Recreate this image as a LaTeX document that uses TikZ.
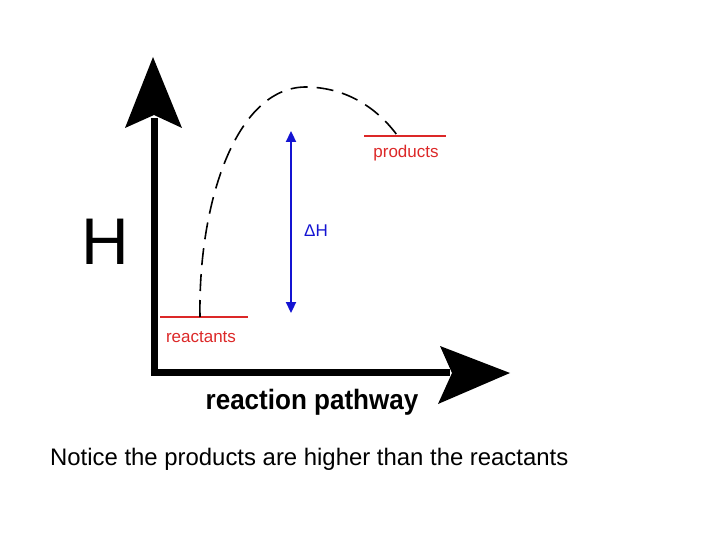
\documentclass[tikz,border=0pt]{standalone}
\usepackage{fontspec}
\setmainfont{Liberation Sans}
\usetikzlibrary{arrows.meta}
\definecolor{rlred}{RGB}{220,40,40}
\definecolor{dhblue}{RGB}{20,20,210}
\tikzset{
  axisline/.style={line width=7pt},
  axishead/.style={fill=black},
  level/.style={draw=rlred, line width=1.2pt},
  lbl/.style={text=rlred, font=\fontsize{17}{17}\selectfont, inner sep=0pt},
  pathcurve/.style={line width=1.6pt, dash pattern=on 17pt off 9pt},
  dharrow/.style={draw=dhblue, line width=2.3pt, {Triangle[length=11pt,width=10pt]}-{Triangle[length=11pt,width=10pt]}}
}
\begin{document}
\begin{tikzpicture}[x=1pt,y=-1pt]
\useasboundingbox (0,0) rectangle (720,540);
% axes
\coordinate (origin) at (154,372);
\coordinate (ytop) at (154,118);
\coordinate (xend) at (450,372);
\draw[axisline] (origin) -- (ytop);
\draw[axisline] ([xshift=-3.5pt]origin) -- (xend);
\fill[axishead] (153,57) -- (182,128) -- (154,115) -- (125,128) -- cycle;
\fill[axishead] (510,373) -- (438,404) -- (452,373) -- (440,346) -- cycle;
% labels
\node[font=\fontsize{66}{66}\selectfont, inner sep=0pt] (H) at (105,242) {H};
\node[font=\bfseries\fontsize{28}{28}\selectfont, inner sep=0pt] (xl) at (312,402) {\scalebox{0.93}[1]{reaction pathway}};
\node[font=\fontsize{23.9}{23.9}\selectfont, inner sep=0pt, anchor=base west] (note) at (50,465) {Notice the products are higher than the reactants};
% levels
\coordinate (rL) at (160,317);
\coordinate (rR) at (248,317);
\coordinate (pL) at (364,136);
\coordinate (pR) at (446,136);
\draw[level] (rL) -- (rR);
\draw[level] (pL) -- (pR);
\node[lbl] (react) at (201,337) {reactants};
\node[lbl] (prod) at (406,153) {products};
% curve
\coordinate (cs) at (200,317);
\coordinate (peak) at (305,87);
\coordinate (ce) at (397,135);
\draw[pathcurve] (cs) .. controls (198,205) and (235,88) .. (peak) .. controls (350,87) and (380,112) .. (ce);
% delta H
\coordinate (dtop) at (291,131);
\coordinate (dbot) at (291,313);
\draw[dharrow] (dbot) -- (dtop);
\node[text=dhblue, font=\fontsize{17}{17}\selectfont, inner sep=0pt] (dH) at (316,231) {ΔH};
\end{tikzpicture}
\end{document}
